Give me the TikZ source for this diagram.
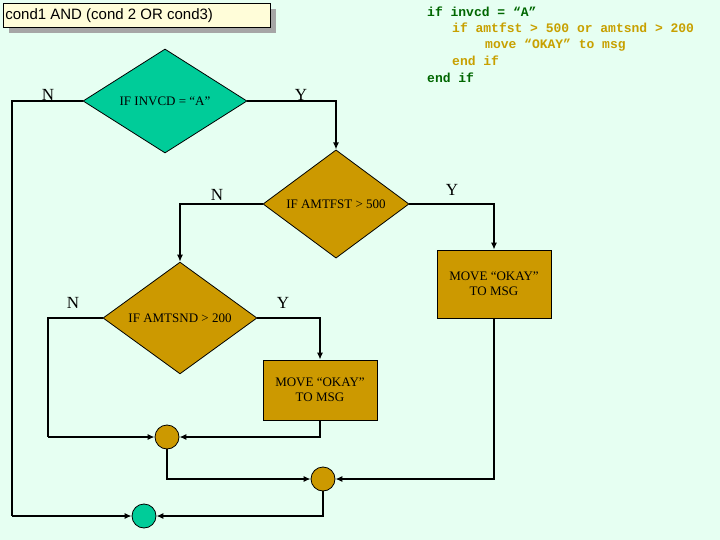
\documentclass[tikz,border=0pt]{standalone}
\usepackage{fontspec}
\setmainfont{Liberation Serif}
\newfontfamily\arialf{Liberation Sans}
\newfontfamily\monof{Liberation Mono}
\usetikzlibrary{shapes.geometric,arrows.meta}
\definecolor{bg}{HTML}{E6FFF2}
\definecolor{teal}{HTML}{00CC99}
\definecolor{gold}{HTML}{CC9900}
\definecolor{dgreen}{HTML}{006600}
\definecolor{cgold}{HTML}{C8A000}
\tikzset{
  dia/.style={diamond,draw=black,line width=0.8pt,inner sep=0pt,font=\fontsize{13}{14}\selectfont},
  box/.style={rectangle,draw=black,line width=0.8pt,fill=gold,minimum width=114pt,minimum height=60pt,align=center,font=\fontsize{13}{15}\selectfont},
  junc/.style={circle,draw=black,line width=0.8pt,minimum size=24pt,inner sep=0pt},
  lab/.style={font=\fontsize{17}{17}\selectfont},
  con/.style={line width=1.3pt,-{Latex[length=7pt,width=6pt]}},
  ln/.style={line width=1.3pt},
  code/.style={anchor=west,font=\monof\bfseries\fontsize{13}{13}\selectfont,inner sep=0pt}
}
\begin{document}
\begin{tikzpicture}[x=1pt,y=-1pt]
\fill[bg] (0,0) rectangle (720,540);
\useasboundingbox (0,0) rectangle (720,540);
% title
\fill[gray!70] (9,9) rectangle (276,33);
\node[draw=black,fill=yellow!15,minimum width=267pt,minimum height=24pt,anchor=north west,inner sep=0pt,font=\arialf\fontsize{15}{15}\selectfont] (title) at (3,3) {\hspace*{-55pt}cond1 AND (cond 2 OR cond3)};
% code
\node[code,text=dgreen] (c1) at (427,12) {if invcd = “A”};
\node[code,text=cgold] (c2) at (452,28) {if amtfst > 500 or amtsnd > 200};
\node[code,text=cgold] (c3) at (485,45) {move “OKAY” to msg};
\node[code,text=cgold] (c4) at (452,61) {end if};
\node[code,text=dgreen] (c5) at (427,78) {end if};
% shapes
\node[dia,fill=teal,minimum width=164pt,minimum height=104pt] (d1) at (165,101) {IF INVCD = “A”};
\node[dia,fill=gold,minimum width=146pt,minimum height=108pt] (d2) at (336,204) {IF AMTFST > 500};
\node[dia,fill=gold,minimum width=154pt,minimum height=106pt] (d3) at (180,318) {IF AMTSND > 200};
\node[box] (b1) at (320,390) {MOVE “OKAY”\\TO MSG};
\node[box,minimum height=68pt] (b2) at (494,284) {MOVE “OKAY”\\TO MSG};
\node[junc,fill=gold] (j1) at (167,437) {};
\node[junc,fill=gold] (j2) at (323,479) {};
\node[junc,fill=teal] (j3) at (144,516) {};
% labels
\node[lab] (n1) at (48,95) {N};
\node[lab] (y1) at (301,95) {Y};
\node[lab] (n2) at (217,195) {N};
\node[lab] (y2) at (452,190) {Y};
\node[lab] (n3) at (73,303) {N};
\node[lab] (y3) at (283,303) {Y};
% connectors
\coordinate (p1) at (12,101);
\coordinate (p2) at (12,516);
\draw[ln] (d1.west) -- (p1) -- (p2);
\draw[con] (p2) -- (j3.west);
\draw[con] (d1.east) -| (d2.north);
\draw[con] (d2.west) -| (d3.north);
\draw[con] (d2.east) -| (b2.north);
\draw[con] (d3.east) -| (b1.north);
\coordinate (p3) at (48,318);
\coordinate (p4) at (48,437);
\draw[ln] (d3.west) -- (p3) -- (p4);
\draw[con] (p4) -- (j1.west);
\draw[con] (b1.south) |- (j1.east);
\draw[con] (j1.south) |- (j2.west);
\draw[con] (b2.south) |- (j2.east);
\draw[con] (j2.south) |- (j3.east);
\end{tikzpicture}
\end{document}
